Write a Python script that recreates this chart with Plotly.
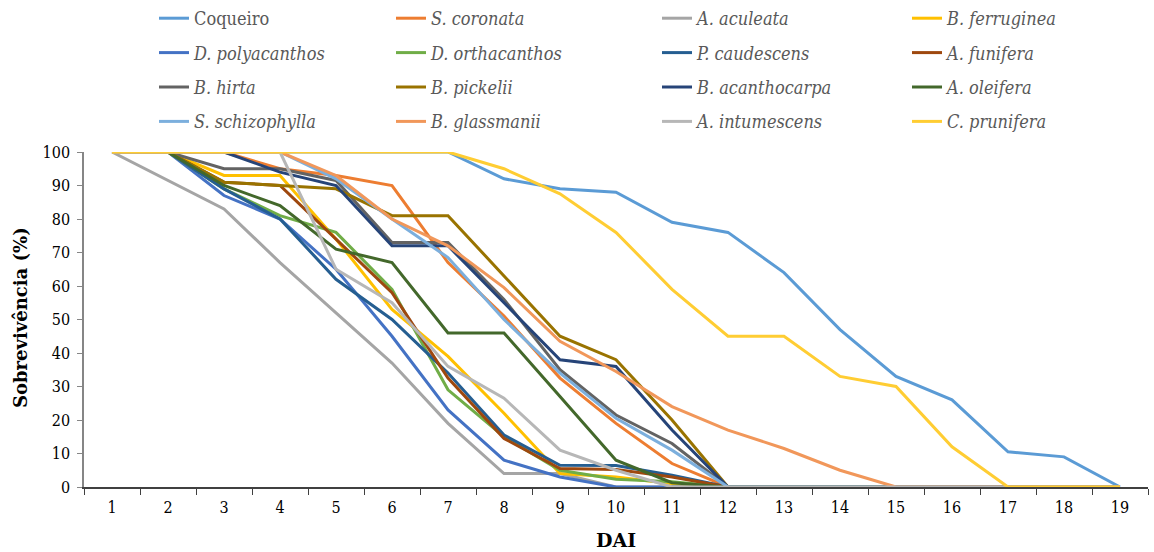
import plotly.graph_objects as go

days = [str(d) for d in range(1, 20)]

coqueiro = [100, 100, 100, 100, 100, 100, 100, 92, 89, 88, 79, 76, 64, 47, 33, 26, 10.5, 9, 0]
s_coronata = [100, 100, 100, 95, 93, 90, 67, 51, 32.5, 19, 7, 0, 0, 0, 0, 0, 0, 0, 0]
a_aculeata = [100, 91.5, 83, 67, 52, 37, 19, 4, 4, 0, 0, 0, 0, 0, 0, 0, 0, 0, 0]
b_ferruginea = [100, 100, 93, 93, 74, 53, 39, 22, 4, 3, 1, 0, 0, 0, 0, 0, 0, 0, 0]
d_polyacanthos = [100, 100, 87, 80, 65, 45, 23, 8, 3, 0, 0, 0, 0, 0, 0, 0, 0, 0, 0]
d_orthacanthos = [100, 100, 89, 81, 76, 59, 29, 15, 5, 2.3, 1.6, 0, 0, 0, 0, 0, 0, 0, 0]
p_caudescens = [100, 100, 89, 80, 62, 50, 34, 15.5, 6.5, 6.4, 3.5, 0, 0, 0, 0, 0, 0, 0, 0]
a_funifera = [100, 100, 91, 90, 74, 58, 32.5, 14.5, 5.5, 5.2, 3, 0, 0, 0, 0, 0, 0, 0, 0]
b_hirta = [100, 100, 95, 95, 91.5, 73, 73, 56, 35, 21.5, 13, 0, 0, 0, 0, 0, 0, 0, 0]
b_pickelii = [100, 100, 91, 90, 89, 81, 81, 63, 45, 38, 20, 0, 0, 0, 0, 0, 0, 0, 0]
b_acanthocarpa = [100, 100, 100, 94, 90, 72, 72, 55, 38, 36, 17, 0, 0, 0, 0, 0, 0, 0, 0]
a_oleifera = [100, 100, 90, 84, 71, 67, 46, 46, 27, 8, 1.3, 0, 0, 0, 0, 0, 0, 0, 0]
s_schizophylla = [100, 100, 100, 100, 92, 80, 68.5, 50, 34, 20.5, 11, 0, 0, 0, 0, 0, 0, 0, 0]
b_glassmanii = [100, 100, 100, 100, 93, 80, 72, 59.5, 43.5, 34.5, 24, 17, 11.5, 5, 0, 0, 0, 0, 0]
a_intumescens = [100, 100, 100, 100, 65, 55, 36, 26.5, 11, 5, 0, 0, 0, 0, 0, 0, 0, 0, 0]
c_prunifera = [100, 100, 100, 100, 100, 100, 100, 95, 87.5, 76, 59, 45, 45, 33, 30, 12, 0, 0, 0]

series_names = ["Coqueiro", "S. coronata", "A. aculeata", "B. ferruginea",
                "D. polyacanthos", "D. orthacanthos", "P. caudescens", "A. funifera",
                "B. hirta", "B. pickelii", "B. acanthocarpa", "A. oleifera",
                "S. schizophylla", "B. glassmanii", "A. intumescens", "C. prunifera"]
series_values = [coqueiro, s_coronata, a_aculeata, b_ferruginea,
                 d_polyacanthos, d_orthacanthos, p_caudescens, a_funifera,
                 b_hirta, b_pickelii, b_acanthocarpa, a_oleifera,
                 s_schizophylla, b_glassmanii, a_intumescens, c_prunifera]
colors = ["#5B9BD5", "#ED7D31", "#A5A5A5", "#FFC000",
          "#4472C4", "#70AD47", "#255E91", "#9E480E",
          "#636363", "#997300", "#264478", "#43682B",
          "#7CAFDD", "#F1975A", "#B7B7B7", "#FFCD33"]

SERIF = "DejaVu Serif"
SERIF_C = "DejaVu Serif Condensed"
legend_ids = ["legend", "legend2", "legend3", "legend4"]

fig = go.Figure()
for i, (name, vals, col) in enumerate(zip(series_names, series_values, colors)):
    label = name if name == "Coqueiro" else "<i>" + name + "</i>"
    fig.add_trace(go.Scatter(
        x=days, y=vals, mode="lines", name=label,
        line=dict(color=col, width=3),
        cliponaxis=False,
        legend=legend_ids[i % 4],
        legendgroup="g%d" % i,
        legendrank=i // 4,
        hoverinfo="skip",
    ))

col_x = [154, 391, 657, 907]
layout_legends = {}
for k, lid in enumerate(legend_ids):
    layout_legends[lid] = dict(
        x=col_x[k] / 1154.0, y=1 + 10 / 552.0,
        font=dict(family=SERIF_C, size=18, color="#595959"),
        bgcolor="rgba(0,0,0,0)", borderwidth=0,
        tracegroupgap=8, yanchor="top", xanchor="left",
        traceorder="grouped", itemwidth=30,
        xref="container", yref="container",
    )

fig.update_layout(
    width=1154, height=552,
    margin=dict(l=84, r=6, t=152, b=65, autoexpand=False),
    paper_bgcolor="white", plot_bgcolor="white",
    font=dict(family=SERIF_C, size=16, color="#000000"),
    showlegend=True,
    xaxis=dict(
        type="category", tickson="boundaries", ticks="outside", ticklen=6,
        range=[-0.5, 18.5], ticklabelstandoff=5,
        tickcolor="#404040", showline=True, linecolor="#404040", linewidth=1.5,
        showgrid=False, zeroline=False,
        tickfont=dict(family=SERIF_C, size=16, color="#000000"),
    ),
    yaxis=dict(
        range=[0, 100], dtick=10, ticks="outside", ticklen=5,
        ticklabelstandoff=4,
        tickcolor="#868686", showline=True, linecolor="#868686", linewidth=1.5,
        showgrid=False, zeroline=False,
        tickfont=dict(family=SERIF_C, size=16, color="#000000"),
    ),
    annotations=[
        dict(text="<b>DAI</b>", xref="paper", yref="paper", x=0.5, y=-(540 - 487) / 335.0,
             xanchor="center", yanchor="middle", showarrow=False,
             font=dict(family=SERIF, size=19, color="#000000")),
        dict(text="<b>Sobrevivência (%)</b>", xref="paper", yref="paper",
             x=-(84 - 20) / 1064.0, y=(487 - 318) / 335.0, textangle=-90,
             xanchor="center", yanchor="middle", showarrow=False,
             font=dict(family=SERIF, size=18, color="#000000")),
    ],
    **layout_legends,
)

fig.write_html("out.html")
